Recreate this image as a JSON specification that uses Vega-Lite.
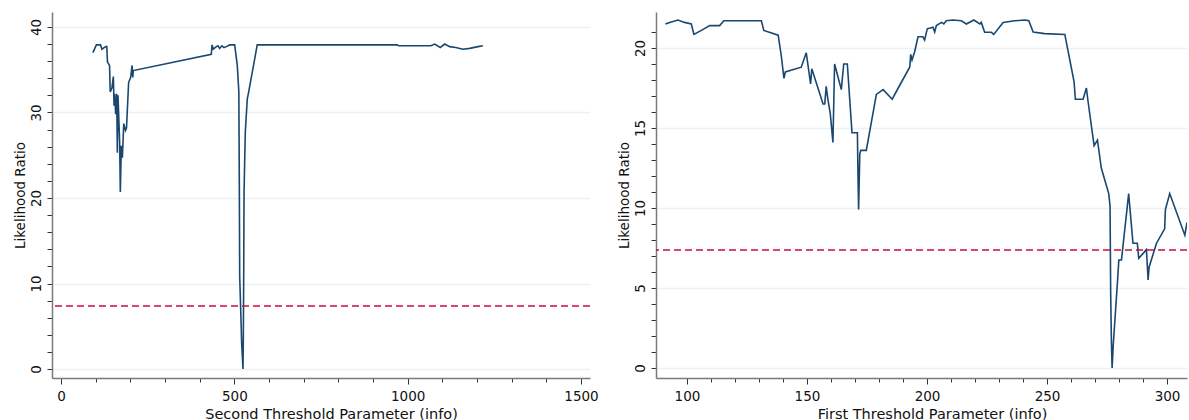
{
  "$schema": "https://vega.github.io/schema/vega-lite/v6.json",
  "padding": {"left": 13, "top": 12, "right": 0, "bottom": 0},
  "autosize": {"type": "pad"},
  "background": "white",
  "bounds": "flush",
  "spacing": 66,
  "config": {
    "view": {"stroke": null},
    "font": "DejaVu Sans",
    "axis": {
      "domainColor": "#7a7a7a",
      "domainWidth": 1.5,
      "tickColor": "#333333",
      "tickWidth": 1,
      "labelColor": "#111111",
      "titleColor": "#111111",
      "labelFontSize": 13.5,
      "titleFontWeight": "normal",
      "labelOverlap": false,
      "labelFlush": false,
      "tickCount": 200,
      "gridWidth": 1.5
    }
  },
  "hconcat": [
    {
      "width": 538,
      "height": 366,
      "layer": [
        {
          "data": {"values": [
            {"x": 92, "lr": 37.0}, {"x": 102, "lr": 37.9}, {"x": 114, "lr": 37.9}, {"x": 118, "lr": 37.4},
            {"x": 129, "lr": 37.7}, {"x": 132, "lr": 37.7}, {"x": 134, "lr": 35.9}, {"x": 140, "lr": 35.5},
            {"x": 142, "lr": 32.4}, {"x": 147, "lr": 32.9}, {"x": 151, "lr": 34.2}, {"x": 153, "lr": 30.8},
            {"x": 154.8, "lr": 32.2}, {"x": 157.7, "lr": 29.8}, {"x": 160.6, "lr": 32.2}, {"x": 162.5, "lr": 25.3},
            {"x": 164.4, "lr": 32.0}, {"x": 166.3, "lr": 29.8}, {"x": 169.2, "lr": 26.5}, {"x": 171.1, "lr": 20.7},
            {"x": 174, "lr": 26.1}, {"x": 177, "lr": 24.7}, {"x": 181, "lr": 28.7}, {"x": 186, "lr": 27.9},
            {"x": 189, "lr": 28.2}, {"x": 195, "lr": 33.5}, {"x": 201, "lr": 34.1}, {"x": 205, "lr": 35.5},
            {"x": 207, "lr": 34.1}, {"x": 208.5, "lr": 34.9}, {"x": 433.6, "lr": 36.8}, {"x": 435.6, "lr": 37.9},
            {"x": 439.4, "lr": 37.4}, {"x": 448, "lr": 37.7}, {"x": 452.8, "lr": 37.8}, {"x": 457.7, "lr": 37.5},
            {"x": 464.4, "lr": 37.8}, {"x": 470.2, "lr": 37.6}, {"x": 476.9, "lr": 37.7}, {"x": 486.5, "lr": 37.9},
            {"x": 501, "lr": 37.9}, {"x": 508.5, "lr": 35.5}, {"x": 513, "lr": 32.4}, {"x": 514.5, "lr": 20.7},
            {"x": 515.4, "lr": 10.9}, {"x": 520, "lr": 4.7}, {"x": 521, "lr": 3.1}, {"x": 525, "lr": 0},
            {"x": 526, "lr": 3.9}, {"x": 527, "lr": 10.9}, {"x": 528, "lr": 20.7}, {"x": 531.6, "lr": 27.7},
            {"x": 537.4, "lr": 31.6}, {"x": 541.4, "lr": 32.4}, {"x": 566, "lr": 37.9}, {"x": 751, "lr": 37.9},
            {"x": 969, "lr": 37.9}, {"x": 975, "lr": 37.8}, {"x": 1067, "lr": 37.8}, {"x": 1078, "lr": 38.0},
            {"x": 1094, "lr": 37.6}, {"x": 1107, "lr": 38.0}, {"x": 1121, "lr": 37.7}, {"x": 1139, "lr": 37.6},
            {"x": 1159, "lr": 37.4}, {"x": 1179, "lr": 37.5}, {"x": 1203, "lr": 37.7}, {"x": 1217, "lr": 37.8}
          ]},
          "mark": {"type": "line", "color": "#1a476f", "strokeWidth": 1.6, "clip": true},
          "encoding": {
            "x": {
              "field": "x", "type": "quantitative",
              "scale": {"domain": [-26, 1526], "nice": false, "zero": false},
              "axis": {
                "title": "Second Threshold Parameter (info)",
                "titleFontSize": 14.5,
                "titleX": 279,
                "titlePadding": 5,
                "format": "d",
                "tickCount": 200,
                "values": [0, 100, 200, 300, 400, 500, 600, 700, 800, 900, 1000, 1100, 1200, 1300, 1400, 1500],
                "labelExpr": "datum.value % 500 === 0 ? datum.label : ''",
                "tickSize": {"condition": {"test": "datum.value % 500 === 0", "value": 6}, "value": 4},
                "labelPadding": 5,
                "grid": false
              }
            },
            "y": {
              "field": "lr", "type": "quantitative",
              "scale": {"domain": [-1.05, 41.75], "nice": false, "zero": false},
              "axis": {
                "title": "Likelihood Ratio",
                "titleFontSize": 13.5,
                "titlePadding": 2,
                "format": "d",
                "tickCount": 200,
                "values": [0, 2, 4, 6, 8, 10, 12, 14, 16, 18, 20, 22, 24, 26, 28, 30, 32, 34, 36, 38, 40],
                "labelExpr": "datum.value % 10 === 0 ? datum.label : ''",
                "labelAngle": -90,
                "labelAlign": "center",
                "labelBaseline": "bottom",
                "labelPadding": 4,
                "tickSize": 5,
                "grid": true,
                "gridColor": {"condition": {"test": "datum.value % 10 === 0", "value": "#eaf2f3"}, "value": "transparent"}
              }
            }
          }
        },
        {
          "data": {"values": [{"cv": 7.37}]},
          "mark": {"type": "rule", "color": "#c70f3c", "strokeDash": [7, 4], "strokeWidth": 1.5},
          "encoding": {"y": {"field": "cv", "type": "quantitative"}}
        }
      ]
    },
    {
      "width": 531,
      "height": 366,
      "layer": [
        {
          "data": {"values": [
            {"x": 91, "lr": 21.5}, {"x": 92.8, "lr": 21.6}, {"x": 96.25, "lr": 21.75}, {"x": 99, "lr": 21.6},
            {"x": 101.8, "lr": 21.5}, {"x": 102.9, "lr": 20.85}, {"x": 106, "lr": 21.1}, {"x": 109.5, "lr": 21.4},
            {"x": 113.6, "lr": 21.4}, {"x": 115.4, "lr": 21.7}, {"x": 131, "lr": 21.7}, {"x": 132, "lr": 21.1},
            {"x": 138, "lr": 20.8}, {"x": 139.3, "lr": 19.5}, {"x": 140.4, "lr": 18.1}, {"x": 141, "lr": 18.5},
            {"x": 147.6, "lr": 18.8}, {"x": 149.7, "lr": 19.7}, {"x": 151.5, "lr": 17.75}, {"x": 152, "lr": 18.7},
            {"x": 156.7, "lr": 16.5}, {"x": 157.4, "lr": 16.5}, {"x": 158, "lr": 17.6}, {"x": 158.75, "lr": 16.75},
            {"x": 159.7, "lr": 15.9}, {"x": 160.8, "lr": 14.1}, {"x": 161.5, "lr": 19.0}, {"x": 164.3, "lr": 17.4},
            {"x": 165.3, "lr": 19.0}, {"x": 166.8, "lr": 19.0}, {"x": 168.75, "lr": 14.7}, {"x": 171, "lr": 14.7},
            {"x": 171.25, "lr": 12.0}, {"x": 171.5, "lr": 9.9}, {"x": 172, "lr": 13.4}, {"x": 172.4, "lr": 13.6},
            {"x": 174.7, "lr": 13.6}, {"x": 178.9, "lr": 17.1}, {"x": 181.7, "lr": 17.4}, {"x": 185.5, "lr": 16.8},
            {"x": 188, "lr": 17.5}, {"x": 192.8, "lr": 18.8}, {"x": 193.2, "lr": 19.6}, {"x": 193.75, "lr": 19.25},
            {"x": 194.9, "lr": 19.8}, {"x": 196.25, "lr": 20.7}, {"x": 198.3, "lr": 20.7}, {"x": 199, "lr": 20.5},
            {"x": 200.1, "lr": 21.2}, {"x": 202.5, "lr": 21.3}, {"x": 203.2, "lr": 21.0}, {"x": 203.9, "lr": 21.4},
            {"x": 206, "lr": 21.6}, {"x": 207, "lr": 21.5}, {"x": 208, "lr": 21.7}, {"x": 210.8, "lr": 21.75},
            {"x": 214.3, "lr": 21.7}, {"x": 216.4, "lr": 21.5}, {"x": 219.5, "lr": 21.75}, {"x": 222, "lr": 21.5},
            {"x": 222.6, "lr": 21.6}, {"x": 224, "lr": 20.98}, {"x": 226.8, "lr": 20.98}, {"x": 227.8, "lr": 20.85},
            {"x": 231.7, "lr": 21.6}, {"x": 236.5, "lr": 21.7}, {"x": 240.7, "lr": 21.75}, {"x": 242.4, "lr": 21.7},
            {"x": 244.2, "lr": 21.0}, {"x": 249, "lr": 20.9}, {"x": 257.4, "lr": 20.85}, {"x": 261.25, "lr": 17.9},
            {"x": 261.8, "lr": 16.8}, {"x": 265, "lr": 16.8}, {"x": 266.4, "lr": 17.5}, {"x": 267, "lr": 16.75},
            {"x": 269.6, "lr": 13.9}, {"x": 271, "lr": 14.25}, {"x": 272.6, "lr": 12.5}, {"x": 275.7, "lr": 10.9},
            {"x": 276.25, "lr": 10.1}, {"x": 276.5, "lr": 4.7}, {"x": 276.8, "lr": 1.75}, {"x": 277.1, "lr": 0},
            {"x": 277.6, "lr": 1.5}, {"x": 279.3, "lr": 5.3}, {"x": 279.9, "lr": 6.75}, {"x": 281, "lr": 6.75},
            {"x": 284, "lr": 10.9}, {"x": 285.8, "lr": 7.8}, {"x": 287.6, "lr": 7.8}, {"x": 288.2, "lr": 6.85},
            {"x": 291.4, "lr": 7.4}, {"x": 292.1, "lr": 5.5}, {"x": 292.5, "lr": 6.3}, {"x": 295.6, "lr": 7.8},
            {"x": 299, "lr": 8.7}, {"x": 299.3, "lr": 9.9}, {"x": 301.1, "lr": 10.9}, {"x": 307.4, "lr": 8.3},
            {"x": 308.3, "lr": 9.1}
          ]},
          "mark": {"type": "line", "color": "#1a476f", "strokeWidth": 1.6, "clip": true},
          "encoding": {
            "x": {
              "field": "x", "type": "quantitative",
              "scale": {"domain": [87.1, 308.3], "nice": false, "zero": false},
              "axis": {
                "title": "First Threshold Parameter (info)",
                "titleFontSize": 14.5,
                "titleX": 276,
                "titlePadding": 5,
                "format": "d",
                "tickCount": 200,
                "values": [100, 110, 120, 130, 140, 150, 160, 170, 180, 190, 200, 210, 220, 230, 240, 250, 260, 270, 280, 290, 300],
                "labelExpr": "datum.value % 50 === 0 ? datum.label : ''",
                "tickSize": {"condition": {"test": "datum.value % 50 === 0", "value": 6}, "value": 4},
                "labelPadding": 5,
                "grid": false
              }
            },
            "y": {
              "field": "lr", "type": "quantitative",
              "scale": {"domain": [-0.625, 22.25], "nice": false, "zero": false},
              "axis": {
                "title": "Likelihood Ratio",
                "titleFontSize": 13.5,
                "titlePadding": 2,
                "format": "d",
                "tickCount": 200,
                "values": [0, 1, 2, 3, 4, 5, 6, 7, 8, 9, 10, 11, 12, 13, 14, 15, 16, 17, 18, 19, 20, 21],
                "labelExpr": "datum.value % 5 === 0 ? datum.label : ''",
                "labelAngle": -90,
                "labelAlign": "center",
                "labelBaseline": "bottom",
                "labelPadding": 4,
                "tickSize": 5,
                "grid": true,
                "gridColor": {"condition": {"test": "datum.value % 5 === 0", "value": "#eaf2f3"}, "value": "transparent"}
              }
            }
          }
        },
        {
          "data": {"values": [{"cv": 7.37}]},
          "mark": {"type": "rule", "color": "#c70f3c", "strokeDash": [7, 4], "strokeWidth": 1.5},
          "encoding": {"y": {"field": "cv", "type": "quantitative"}}
        }
      ]
    }
  ]
}
